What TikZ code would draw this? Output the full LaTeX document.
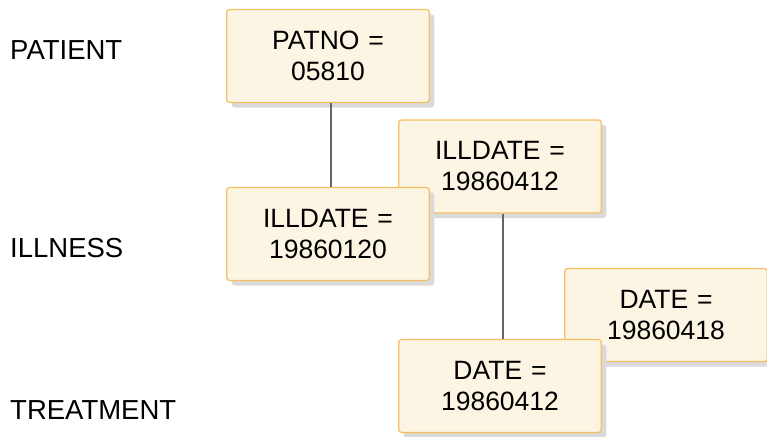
\documentclass[tikz,border=0pt]{standalone}
\usepackage{fontspec}
\setmainfont{Liberation Sans}
\usepackage{tikz}
\usetikzlibrary{shadows}

\definecolor{segfill}{HTML}{FDF5E4}
\definecolor{segline}{HTML}{F6BE5E}
\definecolor{segshadow}{HTML}{DADADA}

\begin{document}
\begin{tikzpicture}[x=1pt,y=-1pt]
    \tikzstyle{segment}=[draw=segline,fill=segfill,line width=1.2pt,rounded corners=3pt,
        minimum width=202pt,minimum height=93pt,text width=196pt,align=center,
        font=\fontsize{26.5}{31}\selectfont,
        drop shadow={shadow xshift=5pt,shadow yshift=-5pt,fill=segshadow,opacity=1}]
    \tikzstyle{level}=[anchor=west,inner sep=0pt,font=\fontsize{27.5}{30}\selectfont]
    \tikzstyle{link}=[draw=black!60,line width=1.5pt]

    \useasboundingbox (0,0) rectangle (767,436);

    % Segment types on the left
    \foreach \name / \y in {PATIENT/50, ILLNESS/248, TREATMENT/410}
        \node[level] (lvl-\name) at (10,\y) {\name};

    % Root segment
    \node[segment] (patno) at (328,56) {PATNO =\\05810};

    % Illness segments (later one first, it sits behind)
    \node[segment] (ill-b) at (500,166.5) {ILLDATE =\\19860412};
    \node[segment] (ill-a) at (328,234) {ILLDATE =\\19860120};

    % Treatment segments
    \node[segment] (treat-b) at (666,315) {DATE =\\19860418};
    \node[segment] (treat-a) at (500,386) {DATE =\\19860412};

    % Parent to child
    \path[link] ([xshift=3pt]patno.south) -- ([xshift=3pt]ill-a.north);
    \path[link] ([xshift=3pt]ill-b.south) -- ([xshift=3pt]treat-a.north);
\end{tikzpicture}
\end{document}
